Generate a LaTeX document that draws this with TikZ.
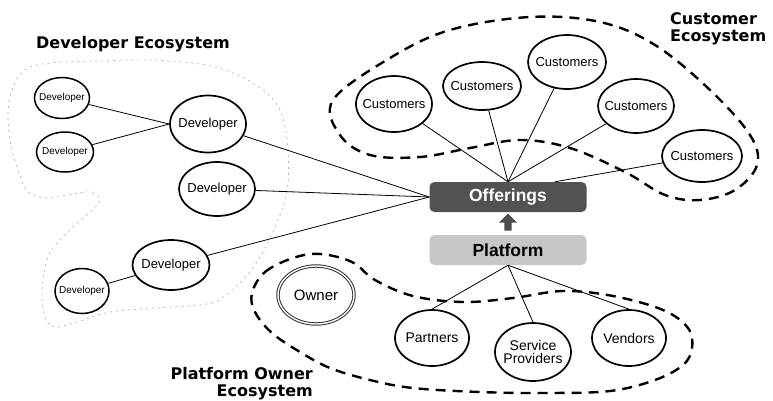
\documentclass[tikz,border=0pt]{standalone}
\usepackage{fontspec}
\setmainfont{Liberation Sans}
\newfontfamily\ecofont{DejaVu Sans}
\usetikzlibrary{shapes.geometric, shapes.arrows}

\begin{document}
\begin{tikzpicture}[
    x=1pt, y=-1pt,
    actor/.style={ellipse, draw=black, fill=white, line width=1.7pt, inner xsep=-6pt, inner ysep=0pt, align=center, font=\fontsize{13}{13}\selectfont},
    smallactor/.style={actor, line width=1.5pt, font=\fontsize{10}{10}\selectfont},
    partner/.style={actor, font=\fontsize{14}{13}\selectfont},
    owner/.style={actor, line width=1pt, double=white, double distance=1.4pt, draw=black!80, font=\fontsize{15}{15}\selectfont},
    layer/.style={rectangle, rounded corners=5pt, minimum width=157pt, minimum height=30pt, inner sep=0pt, font=\fontsize{17.5}{17.5}\selectfont\bfseries},
    link/.style={line width=0.8pt, black},
    eco/.style={draw=black, line width=2.4pt, dash pattern=on 10pt off 7pt},
    devline/.style={draw=black!30, line width=0.7pt, dash pattern=on 2pt off 4pt},
    title/.style={font=\ecofont\fontsize{16}{17}\selectfont\bfseries, inner sep=0pt},
]
    \useasboundingbox (0,0) rectangle (773,400);

    % --- Ecosystem outlines ---
    \draw[devline] plot[smooth cycle, tension=0.6] coordinates {
        (8,117) (12,90) (25,70) (50,63) (100,61) (150,60) (200,64) (233,73)
        (263,90) (280,110) (287,140) (288,183) (280,215) (255,265) (222,298)
        (200,305) (157,308) (110,312) (77,322) (55,327) (45,317) (42,290)
        (48,257) (60,240) (75,225) (90,212) (100,200) (90,192) (68,195)
        (47,198) (28,192) (20,175) (12,150)};
    \draw[eco] plot[smooth cycle, tension=0.6] coordinates {
        (333,100) (390,58) (450,30) (530,17) (600,22) (655,45) (710,90)
        (750,135) (757,165) (735,190) (700,200) (665,195) (625,172)
        (570,148) (520,140) (470,148) (420,157) (370,155) (340,135)};
    \draw[eco] plot[smooth cycle, tension=0.6] coordinates {
        (252,293) (265,272) (293,258) (320,254) (352,262) (375,280)
        (413,296) (463,302) (513,298) (563,291) (613,296) (663,310)
        (688,328) (692,348) (683,365) (655,380) (610,391) (547,393)
        (480,392) (413,388) (370,380) (330,368) (300,352) (272,333) (255,312)};

    % --- Titles ---
    \node[title, anchor=base] (devtitle) at (133,48) {Developer Ecosystem};
    \node[title, anchor=north west, align=left] (custtitle) at (670,12) {Customer\\Ecosystem};
    \node[title, anchor=north east, align=right] (owntitle) at (313,367) {Platform Owner\\Ecosystem};

    % --- Platform stack ---
    \node[layer, fill=black!68, text=white] (Off) at (508,197) {Offerings};
    \node[layer, fill=black!22] (Plat) at (508,250) {Platform};
    \node[single arrow, rotate=90, fill=black!70, minimum height=17pt, minimum width=18pt,
          inner sep=3pt, single arrow head extend=4.5pt] (lift) at (508,224) {};

    % --- Developers ---
    \node[smallactor, minimum width=55pt, minimum height=41pt] (D1) at (62,98)  {Developer};
    \node[smallactor, minimum width=57pt, minimum height=40pt] (D2) at (65,152) {Developer};
    \node[actor, minimum width=76pt, minimum height=57pt] (D3) at (208,124) {Developer};
    \node[actor, minimum width=76pt, minimum height=54pt] (D4) at (217,189) {Developer};
    \node[actor, minimum width=77pt, minimum height=50pt] (D5) at (171,265) {Developer};
    \node[smallactor, minimum width=54pt, minimum height=45pt] (D6) at (82,291) {Developer};

    % --- Customers ---
    \node[actor, minimum width=76pt, minimum height=56pt] (C1) at (394,104) {Customers};
    \node[actor, minimum width=78pt, minimum height=48pt] (C2) at (482,86)  {Customers};
    \node[actor, minimum width=78pt, minimum height=54pt] (C3) at (567,62)  {Customers};
    \node[actor, minimum width=76pt, minimum height=54pt] (C4) at (636,106) {Customers};
    \node[actor, minimum width=80pt, minimum height=52pt] (C5) at (702,156) {Customers};

    % --- Platform owner side ---
    \node[owner, minimum width=76pt, minimum height=58pt] (Own) at (316,295) {Owner};
    \node[partner, minimum width=74pt, minimum height=56pt] (Partners) at (432,338) {Partners};
    \node[partner, minimum width=76pt, minimum height=58pt] (Service)  at (533,352) {Service\\Providers};
    \node[partner, minimum width=74pt, minimum height=56pt] (Vendors)  at (629,338) {Vendors};

    % --- Developer links ---
    \draw[link] (D1) -- (D3.west);
    \draw[link] (D2) -- (D3.west);
    \draw[link] (D6) -- (D5);
    \draw[link] (D3) -- (Off.west);
    \draw[link] (D4) -- (Off.west);
    \draw[link] (D5) -- (Off.west);

    % --- Customer links ---
    \draw[link] (C1) -- (Off.north);
    \draw[link] (C2) -- (Off.north);
    \draw[link] (C3) -- (Off.north);
    \draw[link] (C4) -- (Off.north);
    \draw[link] (C5) -- (Off.18);

    % --- Platform links ---
    \draw[link] (Plat.south) -- (Partners.north);
    \draw[link] (Plat.south) -- (Service.north);
    \draw[link] (Plat.south) -- (Vendors.north);

\end{tikzpicture}
\end{document}
